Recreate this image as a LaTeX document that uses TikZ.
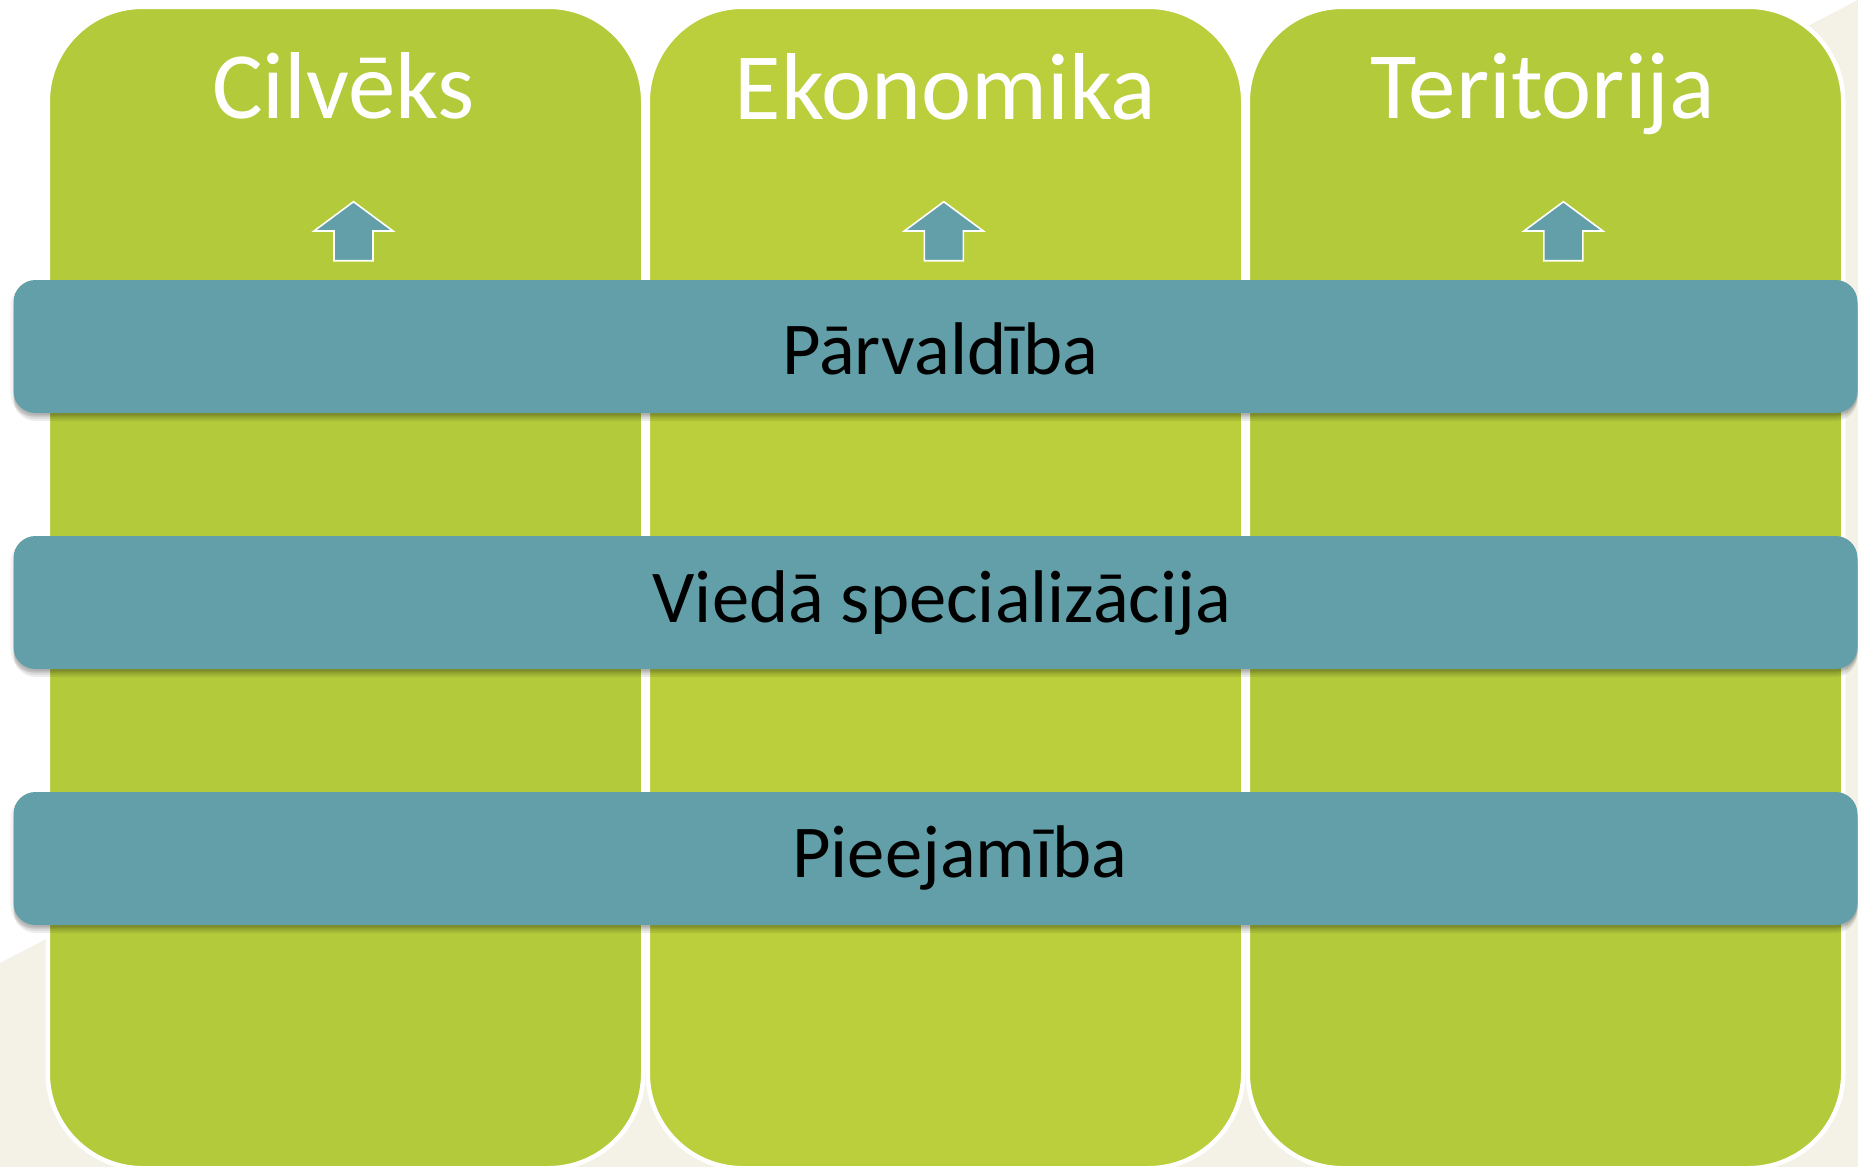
\documentclass[tikz,border=0pt]{standalone}
\usepackage{fontspec}
\setmainfont{Carlito}
\definecolor{greenA}{HTML}{B3CA3B}
\definecolor{greenB}{HTML}{BBCE3B}
\definecolor{teal}{HTML}{629FA9}
\definecolor{beige}{HTML}{F4F1E7}
\tikzset{
  colbox/.style={rectangle, inner sep=0pt, outer sep=0pt, draw=white, line width=2.25pt,
    rounded corners=47.5pt, minimum width=297.75pt, minimum height=580.75pt},
  bandbox/.style={rectangle, inner sep=0pt, outer sep=0pt, fill=teal, rounded corners=11pt,
    minimum width=922pt, minimum height=66.5pt},
  bandshadow/.style={fill=black, opacity=0.07, rounded corners=11pt},
  titletext/.style={anchor=base, text=white, inner sep=0pt, font=\fontsize{47.5}{47.5}\selectfont},
  bandtext/.style={anchor=base, text=black, inner sep=0pt, font=\fontsize{37.3}{37.3}\selectfont},
  uparrow/.style={fill=teal, draw=white, line width=0.8pt, line join=miter}
}
\newcommand{\uparr}[1]{%
  \draw[uparrow] (#1,201.7) -- (#1+39.5,231) -- (#1+19.5,231) -- (#1+19.5,260.7)
    -- (#1-19.5,260.7) -- (#1-19.5,231) -- (#1-39.5,231) -- cycle;}
\begin{document}
\begin{tikzpicture}[x=0.5pt, y=-0.5pt]
\useasboundingbox (0,0) rectangle (1858,1167);
% background
\fill[white] (0,0) rectangle (1858,1167);
\fill[beige] (0,963) -- (1858,0) -- (1858,1167) -- (0,1167) -- cycle;
% columns
\node[colbox, fill=greenA] (c1) at (345.5,587.5) {};
\node[colbox, fill=greenB] (c2) at (945.5,587.5) {};
\node[colbox, fill=greenA] (c3) at (1545.5,587.5) {};
% titles
\node[titletext] (t1) at (343.5,118) {Cilvēks};
\node[titletext] (t2) at (945.5,119) {Ekonomika};
\node[titletext] (t3) at (1543,118) {Teritorija};
% arrows
\uparr{353.5}
\uparr{943.8}
\uparr{1563.4}
% band shadows
\foreach \yc in {346.5,602.5,858.5}{
  \foreach \d in {2,4,6,8}{
    \fill[bandshadow] (13.5,\yc-66.5+\d) rectangle (1857.5,\yc+66.5+\d);
  }
  \fill[black, opacity=0.05, rounded corners=11pt] (10.5,\yc-64.5+2) rectangle (1857.5,\yc+66.5+3);
}
% bands
\node[bandbox] (b1) at (935.5,346.5) {};
\node[bandbox] (b2) at (935.5,602.5) {};
\node[bandbox] (b3) at (935.5,858.5) {};
\node[bandtext] (l1) at (940.5,374) {Pārvaldība};
\node[bandtext] (l2) at (942,622) {Viedā specializācija};
\node[bandtext] (l3) at (960,877) {Pieejamība};
\end{tikzpicture}
\end{document}
